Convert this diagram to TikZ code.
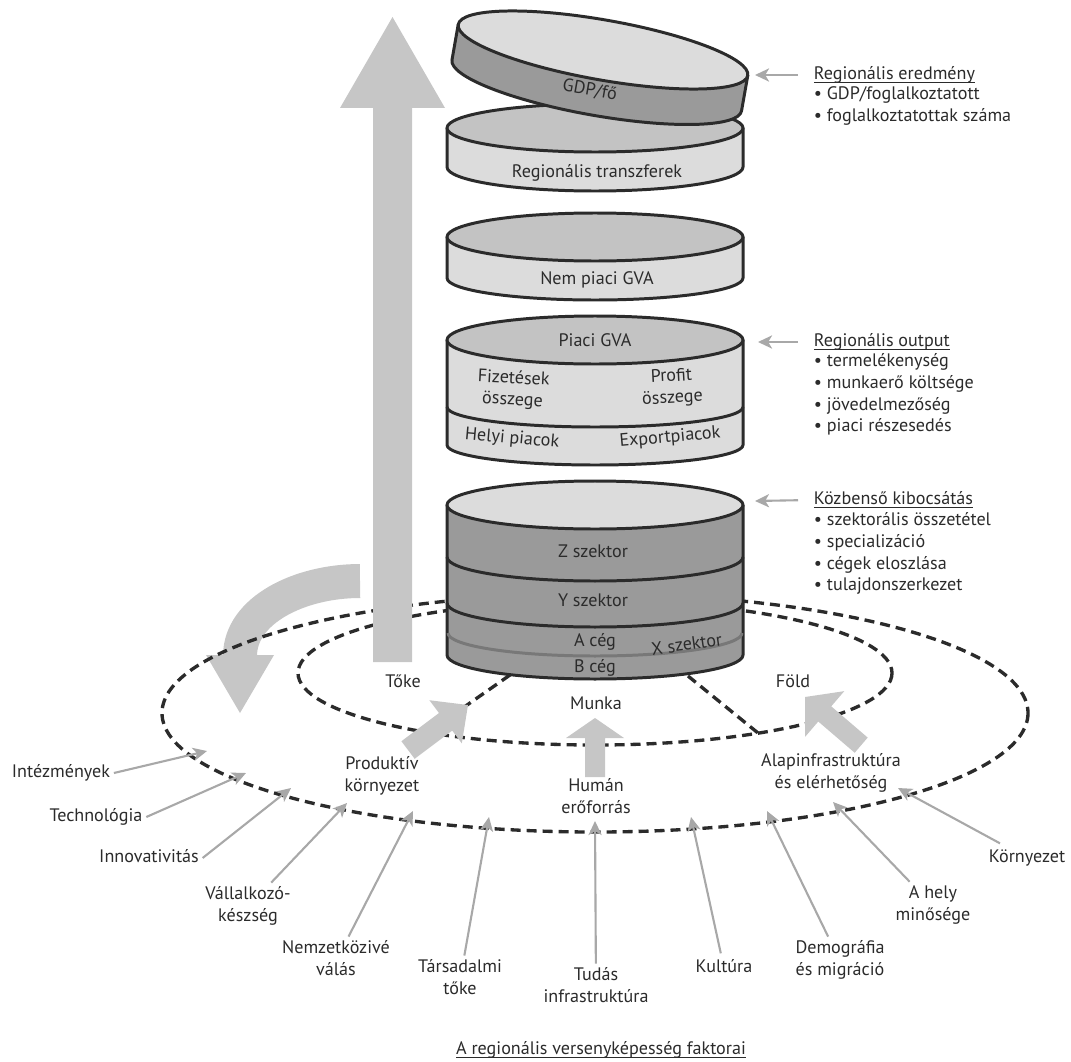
\documentclass[tikz,border=0pt]{standalone}
\usepackage{fontspec}
\setmainfont{PT Sans}
\usetikzlibrary{arrows.meta}

\definecolor{ink}{HTML}{2B2B2B}
\definecolor{faceLight}{HTML}{DCDCDC}
\definecolor{faceMid}{HTML}{C3C3C3}
\definecolor{sideDark}{HTML}{9A9A9A}
\definecolor{arrowGrey}{HTML}{C6C6C6}
\definecolor{thinGrey}{HTML}{A8A8A8}
\definecolor{firmLine}{HTML}{787878}

\newsavebox{\undlbox}
\newcommand{\undl}[1]{\sbox{\undlbox}{#1}\rlap{\rule[-1.8pt]{\wd\undlbox}{0.55pt}}\usebox{\undlbox}}

\begin{document}
\begin{tikzpicture}[
    x=0.02cm, y=-0.02cm,
    txt/.style={font=\fontsize{10.3}{12.3}\selectfont, text=ink, align=center, inner sep=2pt,
      execute at begin node=\strut, execute at end node=\strut},
    disk/.style={draw=ink, line width=1.7pt, line join=round},
    dashline/.style={draw=ink, line width=1.9pt, dash pattern=on 0.2cm off 0.12cm},
    pointer/.style={draw=thinGrey, line width=1.2pt, -{Stealth[length=8pt, width=7.5pt, inset=2.2pt]}},
    flow/.style={fill=arrowGrey}
  ]
  \useasboundingbox (0,0) rectangle (1071,1061);

  % --- curved return arrow ---
  \draw[arrowGrey, line width=0.68cm] (360,581) .. controls (300,581) and (240,610) .. (240,656);
  \fill[flow] (206,655) -- (240,713) -- (274,655) -- cycle;

  % --- dashed rings ---
  \draw[dashline] (595,713) ellipse [x radius=433, y radius=119];
  \draw[dashline] (595,673) ellipse [x radius=297, y radius=72];
  \coordinate (baseL) at (510,675);
  \coordinate (baseR) at (688,676);
  \coordinate (rimL) at (427,733);
  \coordinate (rimR) at (758,733);
  \draw[dashline] (baseL) -- (rimL);
  \draw[dashline] (baseR) -- (rimR);

  % --- capital arrow ---
  \fill[flow] (373,662) -- (373,108) -- (340,108) -- (392.5,17) -- (445,108)
    -- (412,108) -- (412,662) -- cycle;

  % --- disks ---
  \foreach \ya/\yb/\ry/\capfill/\wallfill in {128/167/24/faceMid/faceLight, 237/278/22/faceMid/faceLight,
      340/445/20/faceMid/faceLight, 505/655/24/faceLight/sideDark} {
    \filldraw[disk, fill=\wallfill] (447,\ya) -- (447,\yb)
      arc[start angle=180, end angle=0, x radius=148, y radius=\ry] -- (743,\ya) -- cycle;
    \filldraw[disk, fill=\capfill] (595,\ya) ellipse [x radius=148, y radius=24];
  }
  \draw[disk] (447,407) arc[start angle=180, end angle=0, x radius=148, y radius=20];
  \foreach \yd in {557,603} {
    \draw[disk] (447,\yd) arc[start angle=180, end angle=0, x radius=148, y radius=24];
  }
  \draw[firmLine, line width=1.7pt] (448,633) arc[start angle=180, end angle=0, x radius=147, y radius=23];

  % tilted top disk
  \begin{scope}[shift={(603,50)}, rotate=-10]
    \filldraw[disk, fill=sideDark] (-147,0) -- (-147,36)
      arc[start angle=180, end angle=0, x radius=147, y radius=30] -- (147,0) -- cycle;
    \filldraw[disk, fill=faceLight] (0,0) ellipse [x radius=147, y radius=30];
    \node[txt, rotate=-10] (gdp) at (-6,43) {GDP/fő};
  \end{scope}

  % --- inflow arrows ---
  \begin{scope}[shift={(468,705)}, rotate=36.9]
    \fill[flow] (0,0) -- (-28,-27) -- (-28,-11) -- (-75,-11) -- (-75,11) -- (-28,11) -- (-28,27) -- cycle;
  \end{scope}
  \begin{scope}[shift={(595,718)}, rotate=90]
    \fill[flow] (0,0) -- (-20,-29) -- (-20,-10) -- (-59,-10) -- (-59,10) -- (-20,10) -- (-20,29) -- cycle;
  \end{scope}
  \begin{scope}[shift={(805,697)}, rotate=139.4]
    \fill[flow] (0,0) -- (-26,-30) -- (-26,-10) -- (-74,-10) -- (-74,10) -- (-26,10) -- (-26,30) -- cycle;
  \end{scope}

  % --- disk texts ---
  \node[txt] (transz) at (597,173) {Regionális transzferek};
  \node[txt] (nempiaci) at (597,280) {Nem piaci GVA};
  \node[txt] (piaci) at (595,342) {Piaci GVA};
  \node[txt, rotate=-3] (fizet) at (513,391) {Fizetések\\összege};
  \node[txt, rotate=3] (profit) at (672,389) {Profit\\összege};
  \node[txt, rotate=-5] (helyi) at (512,439) {Helyi piacok};
  \node[txt, rotate=5] (export) at (670,438) {Exportpiacok};
  \node[txt] (zszek) at (593,553) {Z szektor};
  \node[txt] (yszek) at (593,602) {Y szektor};
  \node[txt] (aceg) at (595,642) {A cég};
  \node[txt] (bceg) at (595,668) {B cég};
  \node[txt, rotate=8] (xszek) at (687,646) {X szektor};

  % --- ring texts ---
  \node[txt] (toke) at (403,683) {Tőke};
  \node[txt] (munka) at (596,705) {Munka};
  \node[txt] (fold) at (793,683) {Föld};
  \node[txt] (prod) at (382,777) {Produktív\\környezet};
  \node[txt] (human) at (596,799) {Humán\\erőforrás};
  \node[txt] (alap) at (831,774) {Alapinfrastruktúra\\és elérhetőség};

  % --- factors ---
  \node[txt] (intez) at (61,773) {Intézmények};
  \node[txt] (techn) at (96,817) {Technológia};
  \node[txt] (innov) at (149,858) {Innovativitás};
  \node[txt] (vallal) at (248,907) {Vállalkozó-\\készség};
  \node[txt] (nemzet) at (336,961) {Nemzetközivé\\válás};
  \node[txt] (tarsad) at (460,980) {Társadalmi\\tőke};
  \node[txt] (tudas) at (596,988) {Tudás\\infrastruktúra};
  \node[txt] (kult) at (724,968) {Kultúra};
  \node[txt] (demog) at (840,961) {Demográfia\\és migráció};
  \node[txt] (hely) at (933,906) {A hely\\minősége};
  \node[txt] (korny) at (1027,858) {Környezet};

  \coordinate (intezTip) at (207,751);
  \coordinate (technTip) at (246,773);
  \coordinate (innovTip) at (291,788);
  \coordinate (vallalTip) at (347,803);
  \coordinate (nemzetTip) at (413,811);
  \coordinate (tarsadTip) at (489,817);
  \coordinate (tudasTip) at (595,821);
  \coordinate (kultTip) at (691,817);
  \coordinate (demogTip) at (767,811);
  \coordinate (helyTip) at (833,802);
  \coordinate (kornyTip) at (898,788);

  \draw[pointer] (intez.east) -- (intezTip);
  \draw[pointer] (techn.east) -- (technTip);
  \draw[pointer] (innov.east) -- (innovTip);
  \draw[pointer] (vallal) -- (vallalTip);
  \draw[pointer] (nemzet) -- (nemzetTip);
  \draw[pointer] (tarsad) -- (tarsadTip);
  \draw[pointer] (tudas) -- (tudasTip);
  \draw[pointer] (kult) -- (kultTip);
  \draw[pointer] (demog) -- (demogTip);
  \draw[pointer] (hely) -- (helyTip);
  \draw[pointer] (korny) -- (kornyTip);

  \node[txt] (cim) at (601,1050) {\undl{A regionális versenyképesség faktorai}};

  % --- side notes ---
  \node[txt, anchor=west] (eredHead) at (810,75) {\undl{Regionális eredmény}};
  \node[txt, anchor=west, align=left] (eredList) at (810,107)
    {• GDP/foglalkoztatott\\• foglalkoztatottak száma};
  \node[txt, anchor=west] (outHead) at (810,342) {\undl{Regionális output}};
  \node[txt, anchor=west, align=left] (outList) at (810,396)
    {• termelékenység\\• munkaerő költsége\\• jövedelmezőség\\• piaci részesedés};
  \node[txt, anchor=west] (kozbHead) at (810,500) {\undl{Közbenső kibocsátás}};
  \node[txt, anchor=west, align=left] (kozbList) at (810,555)
    {• szektorális összetétel\\• specializáció\\• cégek eloszlása\\• tulajdonszerkezet};

  \coordinate (eredTip) at (755,75);
  \coordinate (outTip) at (758,342);
  \coordinate (kozbTip) at (755,501);
  \draw[pointer, shorten <=0.24cm] (eredHead.west) -- (eredTip);
  \draw[pointer, shorten <=0.24cm] (outHead.west) -- (outTip);
  \draw[pointer, shorten <=0.24cm] (kozbHead.west) -- (kozbTip);

\end{tikzpicture}
\end{document}
